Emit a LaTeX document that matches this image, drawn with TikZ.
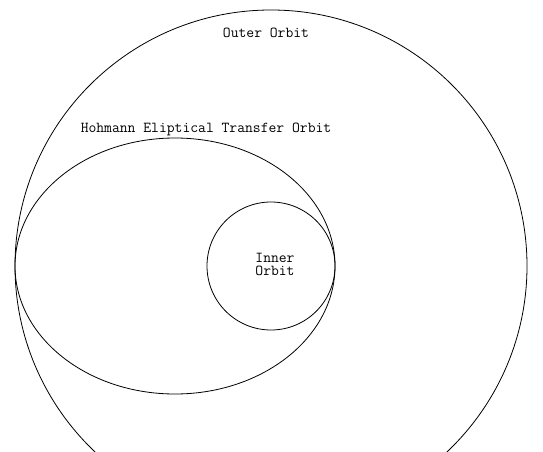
\documentclass[tikz,border=0pt]{standalone}
\usepackage{tikz}
\usetikzlibrary{positioning}

\begin{document}
\begin{tikzpicture}[
	x=1pt, y=-1pt,
	orbit/.style={draw, line width=0.8pt},
	every node/.style={font=\ttfamily\fontsize{15.2}{13}\selectfont, inner sep=0pt, align=center},
	]
	
	% Frame of the picture
	\useasboundingbox (0,0) rectangle (543,452);
	\clip (0,0) rectangle (543,452);
	
	% Centres
	\coordinate (sun) at (271,266);
	\coordinate (mid) at (175,266);
	
	% Orbits
	\path[orbit] (sun) circle [radius=256];
	\path[orbit] (mid) ellipse [x radius=160, y radius=128];
	\path[orbit] (sun) circle [radius=64];
	
	% Labels
	\node (outer) at (266,33) {Outer Orbit};
	\node (transfer) at (206,129) {Hohmann Eliptical Transfer Orbit};
	\node (inner) at (275,264.5) {Inner\\Orbit};
	
\end{tikzpicture}
\end{document}
